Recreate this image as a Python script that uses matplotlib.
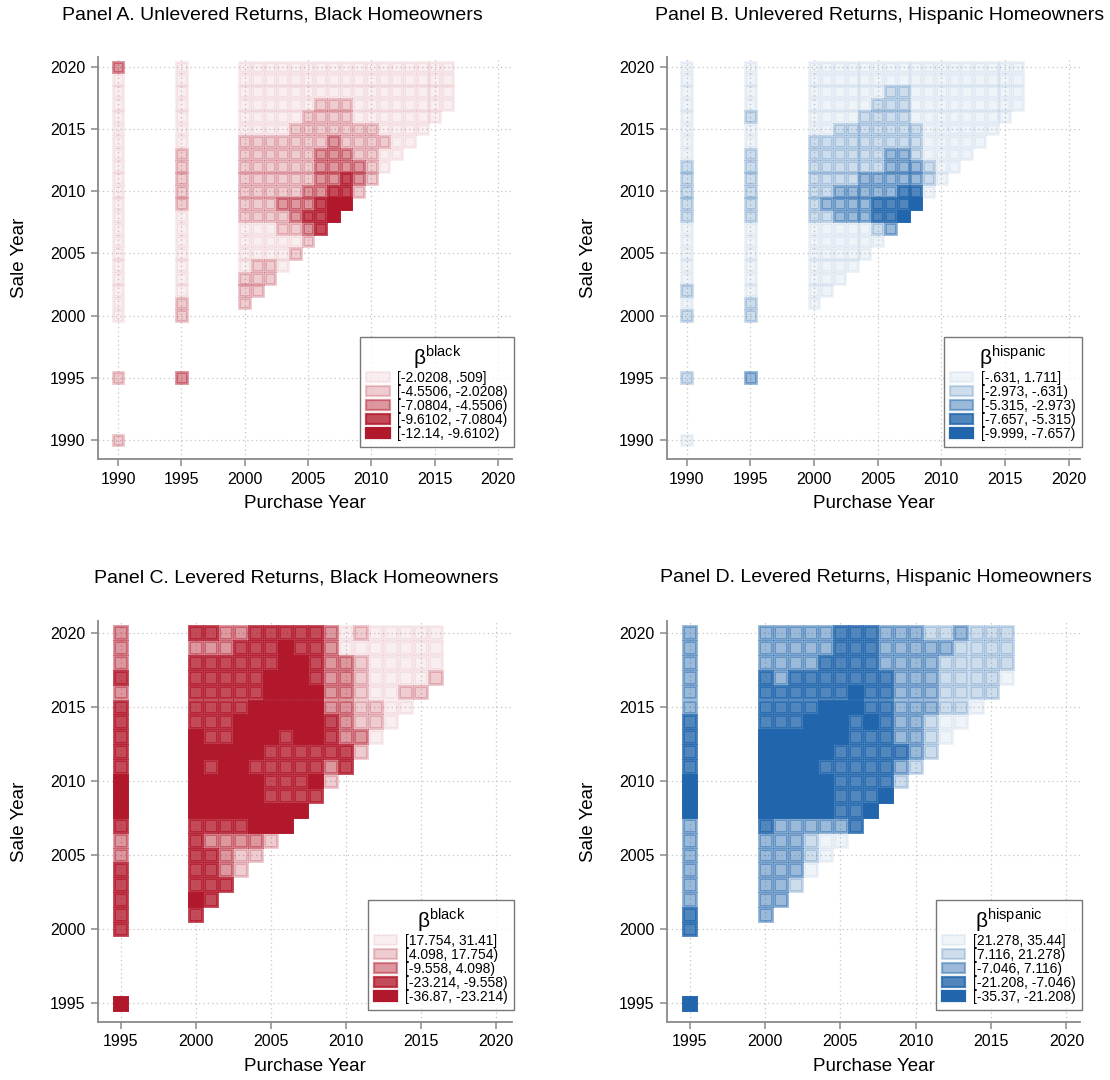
import matplotlib
matplotlib.use("Agg")
import matplotlib.pyplot as plt
from matplotlib.patches import Rectangle, Patch

plt.rcParams['font.family'] = ['Liberation Sans', 'DejaVu Sans']
plt.rcParams['mathtext.fontset'] = 'custom'
plt.rcParams['mathtext.rm'] = 'Liberation Sans'

# rows of the triangle: sale years 2020..2001, each string = purchase 2000, 2001, ...
tri_sale = list(range(2020, 2000, -1))
# separate purchase columns (1990 / 1995): sale years 2020..2000
col_sale = list(range(2020, 1999, -1))

# bin of each cell: 0 = top bin (lightest) ... 4 = bottom bin (darkest)
A_tri = ["00000000000000000", "00000000000000000", "00000000000000000",
         "00000011100000000", "0000011110000000", "000011111110000",
         "11111112111100", "1111112221100", "111111222210", "11111122321",
         "1111122331", "111222344", "11112334", "0001123", "000001",
         "00001", "0110", "111", "11", "1"]
A_cols = {1990: "200000000000000000000", 1995: "000000011111000000011"}
A_extra = [(1990, 1995, 1), (1990, 1990, 1), (1995, 1995, 2)]
A_bins = ["[-2.0208, .509]", "[-4.5506, -2.0208)", "[-7.0804, -4.5506)",
          "[-9.6102, -7.0804)", "[-12.14, -9.6102)"]

B_tri = ["00000000000000000", "00000000000000000", "00000011000000000",
         "00000111000000000", "0000111100000000", "001111111000000",
         "11111111100000", "1111112210000", "111111222100", "11112222210",
         "1122222330", "122223334", "11222334", "0000012", "000000",
         "00000", "0000", "000", "00", "0"]
B_cols = {1990: "000000001111100000101", 1995: "000010011111100000011"}
B_extra = [(1990, 1995, 1), (1990, 1990, 0), (1995, 1995, 2)]
B_bins = ["[-.631, 1.711]", "[-2.973, -.631)", "[-5.315, -2.973)",
          "[-7.657, -5.315)", "[-9.999, -7.657)"]

C_tri = ["33223333320100000", "22233343320000000", "33333344322100000",
         "33333444322100001", "3333344442210011", "333344444221100",
         "33344444432110", "4334443443220", "444443333331", "43443333323",
         "4444433341", "444443333", "44444444", "3333444", "322221",
         "33211", "3321", "333", "43", "3"]
C_cols = {1995: "222323333344432233333"}
C_extra = [(1995, 1995, 4)]
C_bins = ["[17.754, 31.41]", "[4.098, 17.754)", "[-9.558, 4.098)",
          "[-23.214, -9.558)", "[-36.87, -23.214)"]

D_tri = ["22222333222112111", "22222333222221111", "22223333222211111",
         "32333333322211110", "3333334332221111", "333344433222110",
         "33344434322100", "4444443332210", "444443333321", "44443333321",
         "4444433331", "444443334", "44444334", "3222223", "222100",
         "22210", "2220", "221", "22", "2"]
D_cols = {1995: "222222333344422222233"}
D_extra = [(1995, 1995, 4)]
D_bins = ["[21.278, 35.44]", "[7.116, 21.278)", "[-7.046, 7.116)",
          "[-21.208, -7.046)", "[-35.37, -21.208)"]

RED = (178/255, 24/255, 43/255)
BLUE = (33/255, 102/255, 172/255)
alphas = [0.07, 0.22, 0.45, 0.78, 1.0]

W, H = 1110, 1080
fig = plt.figure(figsize=(W/100, H/100), dpi=100)


def add_ax(l, t, r, b):
    return fig.add_axes([l/W, 1 - b/H, (r - l)/W, (b - t)/H])


def cell(ax, x, y, lev, base, w=0.86):
    c = base + (alphas[lev],)
    ax.add_patch(Rectangle((x - w/2, y - w/2), w, w, facecolor=c,
                           edgecolor=c, lw=2.1, zorder=3))


def panel(ax, tri, cols, extra, base, bins, group, ticks, xlim, ylim):
    for sy, row in zip(tri_sale, tri):
        for i, ch in enumerate(row):
            cell(ax, 2000 + i, sy, int(ch), base)
    for px, s in cols.items():
        for sy, ch in zip(col_sale, s):
            cell(ax, px, sy, int(ch), base)
    for px, sy, lev in extra:
        cell(ax, px, sy, lev, base)

    ax.set_xlim(*xlim)
    ax.set_ylim(*ylim)
    ax.set_xticks(ticks)
    ax.set_yticks(ticks)
    ax.grid(True, color='#c4c4c4', linestyle=(0, (1, 2.5)), linewidth=0.9)
    ax.set_axisbelow(True)
    for s in ['top', 'right']:
        ax.spines[s].set_visible(False)
    for s in ['left', 'bottom']:
        ax.spines[s].set_color('#8a8a8a')
        ax.spines[s].set_linewidth(1.3)
    ax.tick_params(direction='out', length=5, width=1.1, color='#8a8a8a',
                   labelsize=11.5, pad=4)
    ax.set_xlabel('Purchase Year', fontsize=13.5, labelpad=6)
    ax.set_ylabel('Sale Year', fontsize=13.5, labelpad=16)

    handles = [Patch(facecolor=base + (a,), edgecolor=base + (a,), lw=1.6)
               for a in alphas]
    leg = ax.legend(handles, bins, loc='lower right', bbox_to_anchor=(1.005, 0.03),
                    borderaxespad=0, fontsize=10,
                    title=r'$\mathrm{\beta}^{\mathrm{%s}}$' % group,
                    title_fontsize=15, frameon=True, fancybox=False,
                    labelspacing=0.0, handlelength=1.7, handleheight=0.8,
                    handletextpad=0.55, borderpad=0.45)
    leg.get_frame().set_edgecolor('#555555')
    leg.get_frame().set_linewidth(1.0)
    leg.set_zorder(10)


top_ticks = [1990, 1995, 2000, 2005, 2010, 2015, 2020]
bot_ticks = [1995, 2000, 2005, 2010, 2015, 2020]

axA = add_ax(98, 57, 512, 459)
panel(axA, A_tri, A_cols, A_extra, RED, A_bins, 'black', top_ticks,
      (1988.42, 2021.1), (1988.46, 2020.8))
axB = add_ax(667, 57, 1080, 459)
panel(axB, B_tri, B_cols, B_extra, BLUE, B_bins, 'hispanic', top_ticks,
      (1988.45, 2020.9), (1988.46, 2020.8))
axC = add_ax(98, 621, 512, 1022)
panel(axC, C_tri, C_cols, C_extra, RED, C_bins, 'black', bot_ticks,
      (1993.49, 2021.1), (1993.73, 2020.8))
axD = add_ax(667, 621, 1080, 1022)
panel(axD, D_tri, D_cols, D_extra, BLUE, D_bins, 'hispanic', bot_ticks,
      (1993.49, 2020.9), (1993.73, 2020.8))

titles = [(272, 15, 'Panel A. Unlevered Returns, Black Homeowners'),
          (880, 15, 'Panel B. Unlevered Returns, Hispanic Homeowners'),
          (296, 578, 'Panel C. Levered Returns, Black Homeowners'),
          (876, 578, 'Panel D. Levered Returns, Hispanic Homeowners')]
for x, y, t in titles:
    fig.text(x/W, 1 - y/H, t, ha='center', va='center', fontsize=14)

fig.savefig('out.png', dpi=100)
